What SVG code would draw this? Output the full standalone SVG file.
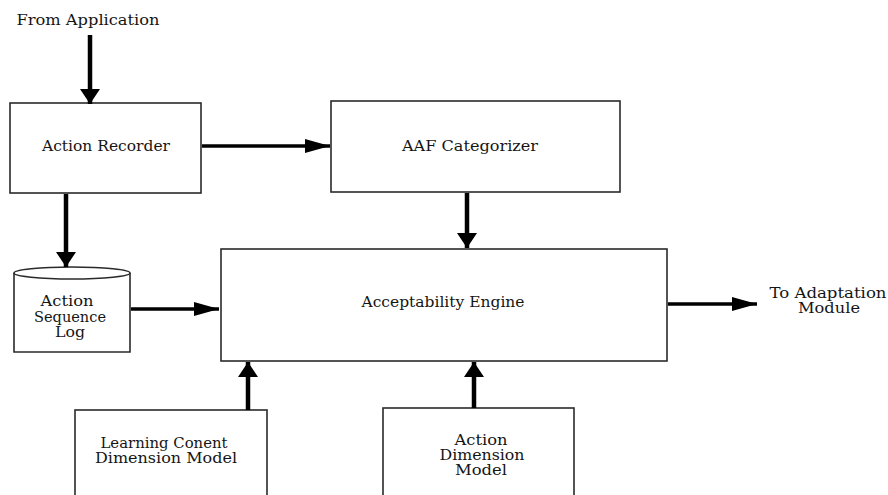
<svg xmlns="http://www.w3.org/2000/svg" width="888" height="495" viewBox="0 0 888 495">
  <style>
    .box { fill: #ffffff; stroke: #2a2a2a; stroke-width: 1.6; }
    .lbl { font-family: "DejaVu Serif", "Liberation Serif", serif; font-size: 14px; fill: #151515; text-anchor: middle; }
    .v { stroke: #000; stroke-width: 4.5; fill: none; marker-end: url(#headV); }
    .h { stroke: #000; stroke-width: 3.5; fill: none; marker-end: url(#headH); }
  </style>
  <defs>
    <!-- short, wide head for vertical links -->
    <marker id="headV" markerUnits="userSpaceOnUse" markerWidth="16" markerHeight="22" refX="15" refY="11" orient="auto" viewBox="0 0 16 22">
      <polygon points="0,1 15,11 0,21" fill="#000"/>
    </marker>
    <!-- long, narrow head for horizontal links -->
    <marker id="headH" markerUnits="userSpaceOnUse" markerWidth="26" markerHeight="16" refX="25" refY="8" orient="auto" viewBox="0 0 26 16">
      <polygon points="0,1 25,8 0,15" fill="#000"/>
    </marker>
  </defs>

  <rect width="888" height="495" fill="#ffffff"/>

  <text class="lbl" x="88" y="25" textLength="143" lengthAdjust="spacingAndGlyphs">From Application</text>

  <g id="action-recorder">
    <rect class="box" x="10" y="103" width="191" height="90"/>
    <text class="lbl" x="106" y="151" textLength="128" lengthAdjust="spacingAndGlyphs">Action Recorder</text>
  </g>

  <g id="aaf-categorizer">
    <rect class="box" x="331" y="101" width="289" height="91"/>
    <text class="lbl" x="470" y="151" textLength="136" lengthAdjust="spacingAndGlyphs">AAF Categorizer</text>
  </g>

  <g id="action-sequence-log">
    <path class="box" d="M14,273 L14,352 L130,352 L130,273"/>
    <ellipse class="box" cx="72" cy="273" rx="58" ry="6"/>
    <text class="lbl" x="67" y="306" textLength="53" lengthAdjust="spacingAndGlyphs">Action</text>
    <text class="lbl" x="70" y="322" textLength="72" lengthAdjust="spacingAndGlyphs">Sequence</text>
    <text class="lbl" x="70" y="337" textLength="30" lengthAdjust="spacingAndGlyphs">Log</text>
  </g>

  <g id="acceptability-engine">
    <rect class="box" x="221" y="249" width="446" height="112"/>
    <text class="lbl" x="443" y="307" textLength="163" lengthAdjust="spacingAndGlyphs">Acceptability Engine</text>
  </g>

  <g id="learning-content-model">
    <rect class="box" x="75" y="410" width="192" height="100"/>
    <text class="lbl" x="164" y="448" textLength="127" lengthAdjust="spacingAndGlyphs">Learning Conent</text>
    <text class="lbl" x="166" y="463" textLength="142" lengthAdjust="spacingAndGlyphs">Dimension Model</text>
  </g>

  <g id="action-dimension-model">
    <rect class="box" x="383" y="408" width="191" height="100"/>
    <text class="lbl" x="481" y="445" textLength="53" lengthAdjust="spacingAndGlyphs">Action</text>
    <text class="lbl" x="482" y="460" textLength="85" lengthAdjust="spacingAndGlyphs">Dimension</text>
    <text class="lbl" x="481" y="475" textLength="52" lengthAdjust="spacingAndGlyphs">Model</text>
  </g>

  <g id="adaptation-output">
    <text class="lbl" x="828" y="298" textLength="117" lengthAdjust="spacingAndGlyphs">To Adaptation</text>
    <text class="lbl" x="829" y="313" textLength="62" lengthAdjust="spacingAndGlyphs">Module</text>
  </g>

  <g id="connectors">
    <line class="v" x1="90" y1="35" x2="90" y2="104"/>
    <line class="h" x1="202" y1="146" x2="330" y2="146"/>
    <line class="v" x1="66" y1="194" x2="66" y2="267"/>
    <line class="v" x1="467" y1="193" x2="467" y2="248"/>
    <line class="h" x1="131" y1="309" x2="219" y2="309"/>
    <line class="h" x1="668" y1="304" x2="757" y2="304"/>
    <line class="v" x1="248" y1="410" x2="248" y2="362"/>
    <line class="v" x1="474" y1="408" x2="474" y2="362"/>
  </g>
</svg>
